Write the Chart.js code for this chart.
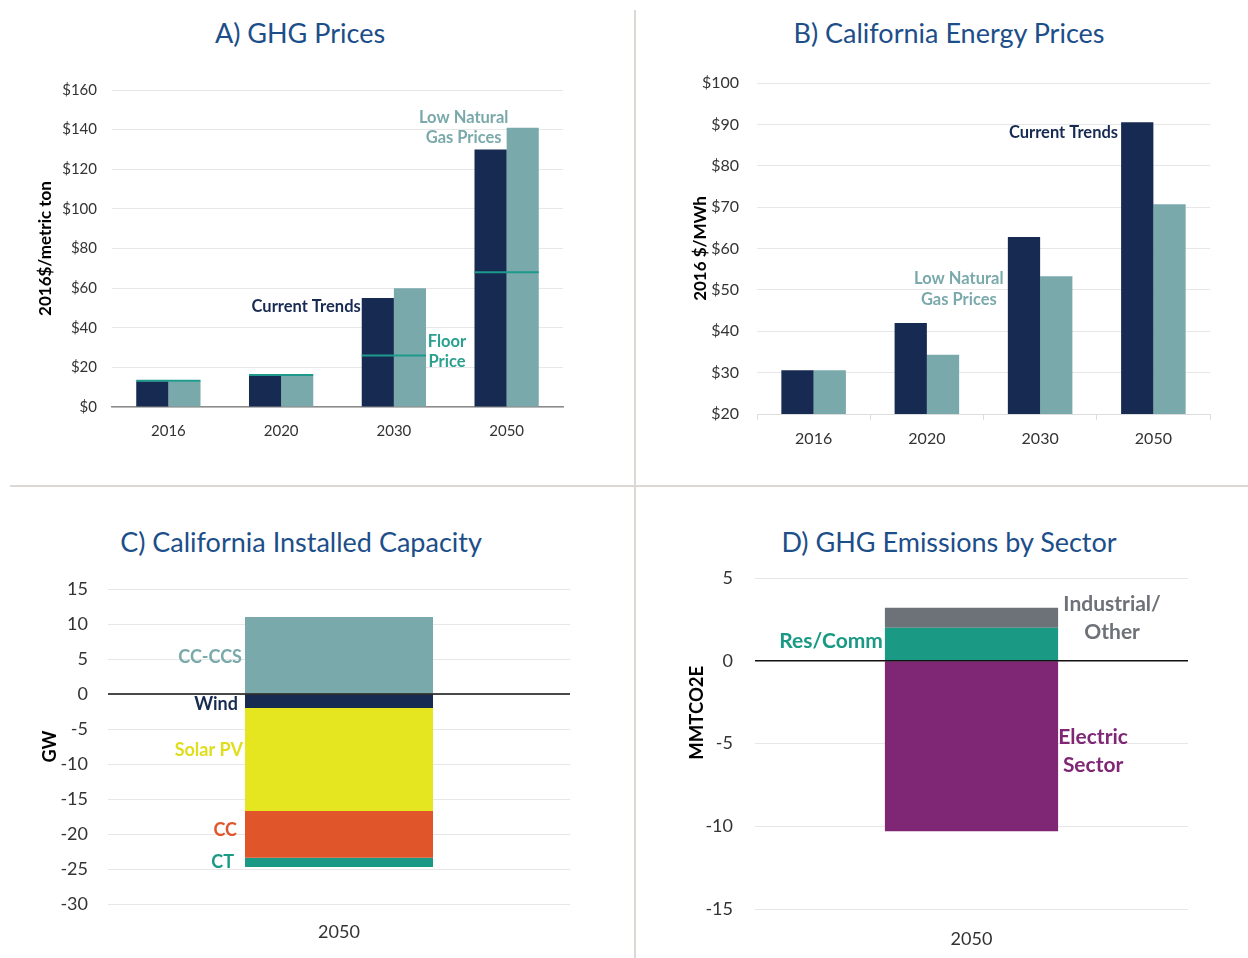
<!DOCTYPE html>
<html>
<head>
<meta charset="utf-8">
<script src="https://cdn.jsdelivr.net/npm/chart.js@4.4.1/dist/chart.umd.min.js"></script>
<style>
  body { margin: 0; background: #fff; width: 1248px; height: 958px; position: relative; overflow: hidden; }
  .box { position: absolute; }
  .rule { position: absolute; background: #dcd8d3; }
  .ttl { position: absolute; text-align: center; font: 27px/32px Lato, "Open Sans", sans-serif; color: #1c4e89; white-space: nowrap; }
</style>
</head>
<body>
<div class="rule" style="left:634px; top:10px; width:2px; height:948px;"></div>
<div class="rule" style="left:10px; top:485px; width:1238px; height:2px;"></div>
<div class="ttl" style="left:0; top:17px; width:600px;">A) GHG Prices</div>
<div class="ttl" style="left:649px; top:17px; width:600px;">B) California Energy Prices</div>
<div class="ttl" style="left:0; top:526px; width:602px;">C) California Installed Capacity</div>
<div class="ttl" style="left:650px; top:526px; width:598px;">D) GHG Emissions by Sector</div>
<div class="box" style="left:0; top:0; width:600px; height:457px;"><canvas id="ghgChart"></canvas></div>
<div class="box" style="left:648px; top:0; width:600px; height:464px;"><canvas id="energyChart"></canvas></div>
<div class="box" style="left:0; top:490px; width:602px; height:464px;"><canvas id="capChart"></canvas></div>
<div class="box" style="left:650px; top:490px; width:598px; height:464px;"><canvas id="emisChart"></canvas></div>
<script>
// Données
const years = ["2016", "2020", "2030", "2050"];
const ghgCurrent = [13, 15.6, 55, 130];
const ghgLowGas = [13, 16, 60, 141];
const ghgFloor = [13.3, 16.2, 26, 68];
const energyCurrent = [30.6, 42, 62.8, 90.5];
const energyLowGas = [30.6, 34.3, 53.3, 70.7];
const capYears = ["2050"];
const capCcCcs = [11];
const capWind = [-2];
const capSolar = [-14.7];
const capCc = [-6.7];
const capCt = [-1.3];
const emisYears = ["2050"];
const emisResComm = [2.0];
const emisIndustrial = [1.2];
const emisElectric = [-10.3];

const NAVY = "#172b52";
const SAGE = "#7aa9ab";
const FONT = "Lato, 'Open Sans', sans-serif";

// Textes à côté des barres
function makeNotes(items, font, gap) {
  return {
    id: "barNotes",
    afterDatasetsDraw(chart) {
      const ctx = chart.ctx;
      const y = chart.scales.y;
      items.forEach((n) => {
        const bar = chart.getDatasetMeta(n.ds).data[n.i];
        const half = bar.width / 2;
        const x = (n.edge === "left" ? bar.x - half : bar.x + half) + n.dx;
        ctx.save();
        ctx.font = font;
        ctx.fillStyle = n.color;
        ctx.textAlign = n.align;
        ctx.textBaseline = "middle";
        n.lines.forEach((t, k) => ctx.fillText(t, x, y.getPixelForValue(n.at) + k * gap));
        ctx.restore();
      });
    },
  };
}

// Titre d'axe vertical placé librement
function sideTitle(text, dx, at, font) {
  return {
    id: "sideTitle",
    afterDraw(chart) {
      const ctx = chart.ctx;
      ctx.save();
      ctx.translate(chart.chartArea.left + dx, chart.scales.y.getPixelForValue(at));
      ctx.rotate(-Math.PI / 2);
      ctx.font = font;
      ctx.fillStyle = "#000";
      ctx.textAlign = "center";
      ctx.textBaseline = "middle";
      ctx.fillText(text, 0, 0);
      ctx.restore();
    },
  };
}

// Ligne du zéro
const zeroLine = {
  id: "zeroLine",
  afterDatasetsDraw(chart) {
    const { ctx, chartArea } = chart;
    const py = chart.scales.y.getPixelForValue(0);
    ctx.save();
    ctx.strokeStyle = "#111";
    ctx.lineWidth = 1.6;
    ctx.beginPath();
    ctx.moveTo(chartArea.left, py);
    ctx.lineTo(chartArea.right, py);
    ctx.stroke();
    ctx.restore();
  },
};

// Prix plancher
const floorLines = {
  id: "floorLines",
  afterDatasetsDraw(chart) {
    const ctx = chart.ctx;
    const y = chart.scales.y;
    ctx.save();
    ctx.strokeStyle = "#1d9a8b";
    ctx.lineWidth = 2;
    ghgFloor.forEach((v, i) => {
      const a = chart.getDatasetMeta(0).data[i];
      const b = chart.getDatasetMeta(1).data[i];
      const py = y.getPixelForValue(v);
      ctx.beginPath();
      ctx.moveTo(a.x - a.width / 2, py);
      ctx.lineTo(b.x + b.width / 2, py);
      ctx.stroke();
    });
    ctx.restore();
  },
};

function baseOptions(cfg) {
  return {
    responsive: true,
    maintainAspectRatio: false,
    animation: false,
    layout: { padding: { top: cfg.padTop, right: cfg.padRight } },
    plugins: {
      legend: { display: false },
      tooltip: { enabled: false },
    },
    scales: {
      x: {
        stacked: cfg.stacked,
        afterFit: (s) => { s.height = cfg.xHeight; },
        grid: cfg.xGrid,
        border: cfg.xBorder,
        ticks: { color: "#333", padding: cfg.xPad, font: { family: FONT, size: cfg.xFont } },
      },
      y: {
        stacked: cfg.stacked,
        min: cfg.min,
        max: cfg.max,
        afterFit: (s) => { s.width = cfg.yWidth; },
        grid: { color: "#e7e7e7", drawTicks: false },
        border: { display: false },
        ticks: {
          stepSize: cfg.step,
          color: "#333",
          padding: cfg.yPad,
          font: { family: FONT, size: cfg.yFont },
          callback: cfg.fmt,
        },
        title: {
          display: !!cfg.yTitle,
          text: cfg.yTitle,
          color: "#000",
          font: { family: FONT, size: cfg.yTitleSize, weight: "bold" },
          padding: { top: cfg.yTitlePad },
        },
      },
    },
  };
}

// A) Prix GES
new Chart(document.getElementById("ghgChart"), {
  type: "bar",
  data: {
    labels: years,
    datasets: [
      { label: "Current Trends", data: ghgCurrent, backgroundColor: NAVY, categoryPercentage: 0.57, barPercentage: 1 },
      { label: "Low Natural Gas Prices", data: ghgLowGas, backgroundColor: SAGE, categoryPercentage: 0.57, barPercentage: 1 },
    ],
  },
  options: baseOptions({
    padTop: 90, padRight: 37,
    stacked: false, min: 0, max: 160, step: 20, fmt: (v) => "$" + v,
    xHeight: 50, xPad: 7, xFont: 15, yWidth: 112, yPad: 15, yFont: 15,
    xGrid: { display: false }, xBorder: { display: true, color: "#8c8c8c", width: 1.5 },
    yTitle: "2016$/metric ton", yTitleSize: 17, yTitlePad: 35,
  }),
  plugins: [
    floorLines,
    makeNotes([
      { lines: ["Low Natural", "Gas Prices"], ds: 1, i: 3, edge: "left", dx: -43, at: 146, align: "center", color: SAGE },
      { lines: ["Current Trends"], ds: 0, i: 2, edge: "left", dx: -1, at: 50.5, align: "right", color: NAVY },
      { lines: ["Floor", "Price"], ds: 1, i: 2, edge: "right", dx: 21, at: 32.8, align: "center", color: "#2aa08f" },
    ], "bold 16.5px " + FONT, 20),
  ],
});

// B) Prix de l'énergie
new Chart(document.getElementById("energyChart"), {
  type: "bar",
  data: {
    labels: years,
    datasets: [
      { label: "Current Trends", data: energyCurrent, backgroundColor: NAVY, categoryPercentage: 0.57, barPercentage: 1 },
      { label: "Low Natural Gas Prices", data: energyLowGas, backgroundColor: SAGE, categoryPercentage: 0.57, barPercentage: 1 },
    ],
  },
  options: baseOptions({
    padTop: 83, padRight: 38,
    stacked: false, min: 20, max: 100, step: 10, fmt: (v) => "$" + v,
    xHeight: 50, xPad: 9, xFont: 16, yWidth: 109, yPad: 18, yFont: 16,
    xGrid: { display: true, drawOnChartArea: false, drawTicks: true, tickLength: 6, color: "#dddddd" },
    xBorder: { display: true, color: "#dddddd" },
    yTitle: "2016 $/MWh", yTitleSize: 17, yTitlePad: 42,
  }),
  plugins: [
    makeNotes([
      { lines: ["Current Trends"], ds: 0, i: 3, edge: "left", dx: -3, at: 87.9, align: "right", color: NAVY },
      { lines: ["Low Natural", "Gas Prices"], ds: 0, i: 2, edge: "left", dx: -49, at: 52.6, align: "center", color: SAGE },
    ], "bold 16.5px " + FONT, 21),
  ],
});

// C) Capacité installée
new Chart(document.getElementById("capChart"), {
  type: "bar",
  data: {
    labels: capYears,
    datasets: [
      { label: "CC-CCS", data: capCcCcs, backgroundColor: SAGE },
      { label: "Wind", data: capWind, backgroundColor: NAVY },
      { label: "Solar PV", data: capSolar, backgroundColor: "#e6e620" },
      { label: "CC", data: capCc, backgroundColor: "#e0562a" },
      { label: "CT", data: capCt, backgroundColor: "#1a9a85" },
    ].map((d) => Object.assign(d, { categoryPercentage: 0.407, barPercentage: 1 })),
  },
  options: baseOptions({
    padTop: 99, padRight: 32,
    stacked: true, min: -30, max: 15, step: 5, fmt: (v) => v,
    xHeight: 50, xPad: 9, xFont: 18, yWidth: 108, yPad: 20, yFont: 18,
    xGrid: { display: false }, xBorder: { display: false },
    yTitle: "GW", yTitleSize: 18, yTitlePad: 39,
  }),
  plugins: [
    zeroLine,
    makeNotes([
      { lines: ["CC-CCS"], ds: 0, i: 0, edge: "left", dx: -3, at: 5.3, align: "right", color: SAGE },
      { lines: ["Wind"], ds: 1, i: 0, edge: "left", dx: -7, at: -1.4, align: "right", color: NAVY },
      { lines: ["Solar PV"], ds: 2, i: 0, edge: "left", dx: -2, at: -8, align: "right", color: "#e0dd1d" },
      { lines: ["CC"], ds: 3, i: 0, edge: "left", dx: -8, at: -19.4, align: "right", color: "#e0562a" },
      { lines: ["CT"], ds: 4, i: 0, edge: "left", dx: -11, at: -24, align: "right", color: "#1a9a85" },
    ], "bold 18px " + FONT, 22),
  ],
});

// D) Émissions par secteur
new Chart(document.getElementById("emisChart"), {
  type: "bar",
  data: {
    labels: emisYears,
    datasets: [
      { label: "Res/Comm", data: emisResComm, backgroundColor: "#1a9a85" },
      { label: "Industrial/Other", data: emisIndustrial, backgroundColor: "#6d7178" },
      { label: "Electric Sector", data: emisElectric, backgroundColor: "#7f2775" },
    ].map((d) => Object.assign(d, { categoryPercentage: 0.40, barPercentage: 1 })),
  },
  options: baseOptions({
    padTop: 88, padRight: 60,
    stacked: true, min: -15, max: 5, step: 5, fmt: (v) => v,
    xHeight: 45, xPad: 11, xFont: 18, yWidth: 105, yPad: 22, yFont: 18,
    xGrid: { display: false }, xBorder: { display: false },
    yTitle: "",
  }),
  plugins: [
    zeroLine,
    sideTitle("MMTCO2E", -58, -3.14, "bold 18.5px " + FONT),
    makeNotes([
      { lines: ["Res/Comm"], ds: 0, i: 0, edge: "left", dx: -2, at: 1.2, align: "right", color: "#1a9a85" },
      { lines: ["Industrial/", "Other"], ds: 1, i: 0, edge: "right", dx: 54, at: 3.4, align: "center", color: "#6d7178" },
      { lines: ["Electric", "Sector"], ds: 2, i: 0, edge: "right", dx: 35, at: -4.6, align: "center", color: "#7f2775" },
    ], "bold 21px " + FONT, 28),
  ],
});
</script>
</body>
</html>
